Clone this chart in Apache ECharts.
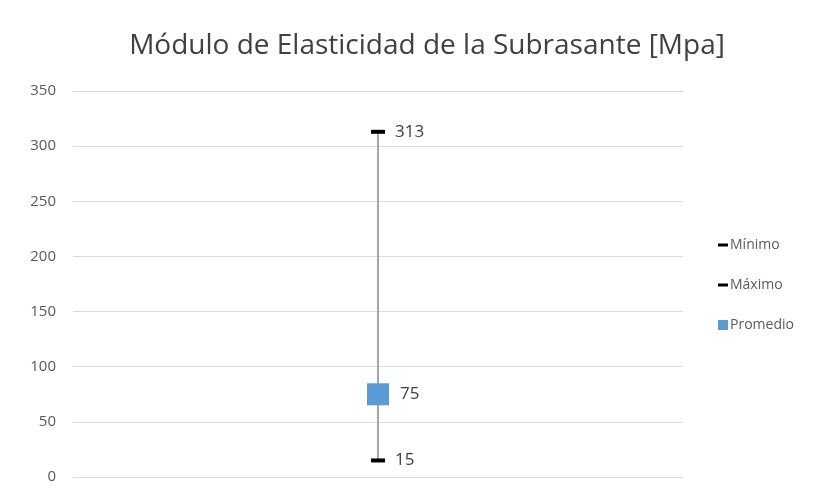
<!DOCTYPE html>
<html>
<head>
<meta charset="utf-8">
<script src="https://cdn.jsdelivr.net/npm/echarts@6/dist/echarts.min.js"></script>
<style>
    html, body { margin: 0; padding: 0; background: #fff; }
    .container { width: 833px; height: 500px; }
</style>
</head>
<body>
<div class="container"></div>
<script>
const categories = [''];
const minimo = [15];
const maximo = [313];
const promedio = [75];
const yTicks = [0, 50, 100, 150, 200, 250, 300, 350];

(function(){
    let myChart = echarts.init(document.querySelector('.container'));

    // guion del marcador (caja 10x10 con una barra delgada en medio)
    const dashIcon = 'path://M0,0M10,10M0,3.5L10,3.5L10,6.5L0,6.5Z';

    const labelStyle = {
        show: true,
        position: 'right',
        distance: 10,
        color: '#404040',
        fontSize: 17,
        fontFamily: 'Open Sans'
    };

    const option = {
        animation: false,
        textStyle: { fontFamily: 'Open Sans' },
        title: {
            text: 'Módulo de Elasticidad de la Subrasante [Mpa]',
            left: 422,
            textAlign: 'center',
            top: 27,
            textStyle: {
                color: '#404040',
                fontSize: 28,
                fontWeight: 'normal',
                fontFamily: 'Open Sans'
            }
        },
        legend: {
            orient: 'vertical',
            left: 713,
            top: 233,
            itemWidth: 10,
            itemHeight: 10,
            itemGap: 26,
            textStyle: { color: '#595959', fontSize: 14, padding: [0, 0, 0, -3] },
            data: [
                { name: 'Mínimo', icon: dashIcon, itemStyle: { color: '#000' } },
                { name: 'Máximo', icon: dashIcon, itemStyle: { color: '#000' } },
                { name: 'Promedio', icon: 'rect', itemStyle: { color: '#5B9BD5' } }
            ]
        },
        grid: {
            left: 73,
            right: 150,
            top: 91,
            bottom: 23
        },
        xAxis: {
            type: 'category',
            data: categories,
            axisLine: { show: false },
            axisTick: { show: false },
            axisLabel: { show: false }
        },
        yAxis: {
            type: 'value',
            min: yTicks[0],
            max: yTicks[yTicks.length - 1],
            interval: yTicks[1] - yTicks[0],
            axisLine: { show: false },
            axisTick: { show: false },
            axisLabel: { color: '#595959', fontSize: 15, margin: 17 },
            splitLine: { lineStyle: { color: '#d9d9d9', width: 1 } }
        },
        series: [
            {
                name: 'Rango',
                type: 'custom',
                silent: true,
                z: 1,
                data: categories.map((c, i) => [i, minimo[i], maximo[i]]),
                renderItem: function(params, api) {
                    const lo = api.coord([api.value(0), api.value(1)]);
                    const hi = api.coord([api.value(0), api.value(2)]);
                    return {
                        type: 'line',
                        shape: { x1: lo[0], y1: lo[1], x2: hi[0], y2: hi[1] },
                        style: { stroke: '#a6a6a6', lineWidth: 2 }
                    };
                }
            },
            {
                name: 'Mínimo',
                type: 'scatter',
                z: 3,
                symbol: 'rect',
                symbolSize: [14, 4],
                itemStyle: { color: '#000', opacity: 1 },
                label: labelStyle,
                data: minimo
            },
            {
                name: 'Máximo',
                type: 'scatter',
                z: 3,
                symbol: 'rect',
                symbolSize: [14, 4],
                itemStyle: { color: '#000', opacity: 1 },
                label: labelStyle,
                data: maximo
            },
            {
                name: 'Promedio',
                type: 'scatter',
                z: 4,
                symbol: 'rect',
                symbolSize: 22,
                itemStyle: { color: '#5B9BD5', opacity: 1 },
                label: Object.assign({}, labelStyle, { distance: 11 }),
                data: promedio
            }
        ]
    };

    myChart.setOption(option);
})();
</script>
</body>
</html>
